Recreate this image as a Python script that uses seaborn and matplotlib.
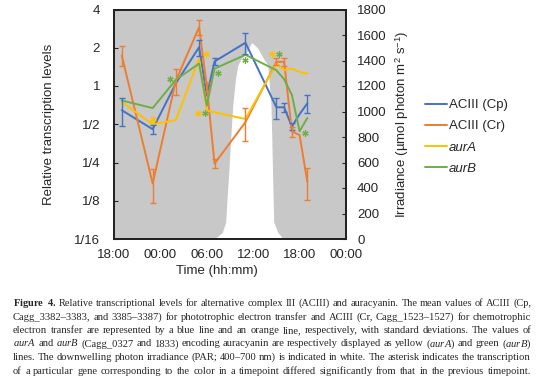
import numpy as np
import pandas as pd
import matplotlib
matplotlib.use("Agg")
import matplotlib.pyplot as plt
from matplotlib.lines import Line2D
import seaborn as sns

# sampling times, hours after 18:00 of day 0
hours = [1, 5, 8, 11, 12, 13, 17, 21, 22, 23, 24, 25]

cp_mean = [0.645, 0.457, 1.05, 2.02, 0.84, 1.56, 2.19, 0.68, 0.68, 0.48, 0.60, 0.73]
cp_sd = [0.16, 0.04, 0.0, 0.30, 0.0, 0.10, 0.40, 0.13, 0.06, 0.03, 0.0, 0.12]
cr_mean = [1.74, 0.171, 1.10, 2.90, 1.00, 0.245, 0.52, 1.55, 1.55, 0.44, 0.41, 0.176]
cr_sd = [0.31, 0.05, 0.25, 0.38, 0.08, 0.02, 0.15, 0.10, 0.12, 0.04, 0.0, 0.05]
aura = [0.75, 0.50, 0.54, 1.64, 0.64, 0.62, 0.55, 1.50, 1.33, 1.37, 1.29, 1.25]
aurb = [0.77, 0.67, 1.12, 1.50, 0.70, 1.37, 1.76, 1.33, 1.13, 0.85, 0.44, 0.56]

genes = ["ACIII (Cp)", "ACIII (Cr)", "aurA", "aurB"]
colors = ["#4472C4", "#ED7D31", "#FFC000", "#70AD47"]

# asterisks: (gene index, hour, level)
stars = [(2, 5.0, 0.55), (2, 11.9, 1.8), (2, 10.9, 0.61), (3, 11.8, 0.61),
         (3, 13.4, 1.26), (3, 7.2, 1.13), (3, 16.9, 1.59), (2, 20.4, 1.77),
         (3, 21.3, 1.77), (3, 24.7, 0.43)]

# downwelling irradiance (PAR)
irr_time = [12.5, 13.3, 14.0, 14.45, 14.6, 14.84, 15.1, 15.36, 15.7, 16.0, 16.5, 17.0, 17.4,
            17.8, 18.2, 18.6, 19.0, 19.5, 19.9, 20.1, 20.3, 20.4, 20.5, 20.65, 21.2, 21.9]
irr_par = [0, 15, 50, 133, 300, 524, 800, 1048, 1250, 1362, 1420, 1450, 1495,
           1540, 1520, 1495, 1450, 1400, 1362, 1200, 1048, 800, 524, 133, 50, 0]

xtick_labels = ["18:00", "00:00", "06:00", "12:00", "18:00", "00:00"]
ytick_vals = [1/16, 1/8, 1/4, 1/2, 1, 2, 4]
ytick_labels = ["1/16", "1/8", "1/4", "1/2", "1", "2", "4"]

caption_lines = [
    r"$\mathbf{Figure}$ $\mathbf{4.}$ Relative transcriptional levels for alternative complex III (ACIII) and auracyanin. The mean values of ACIII (Cp,",
    "Cagg_3382–3383, and 3385–3387) for phototrophic electron transfer and ACIII (Cr, Cagg_1523–1527) for chemotrophic",
    "electron transfer are represented by a blue line and an orange line, respectively, with standard deviations. The values of",
    r"$\mathit{aurA}$ and $\mathit{aurB}$ (Cagg_0327 and 1833) encoding auracyanin are respectively displayed as yellow ($\mathit{aurA}$) and green ($\mathit{aurB}$)",
    "lines. The downwelling photon irradiance (PAR; 400–700 nm) is indicated in white. The asterisk indicates the transcription",
    "of a particular gene corresponding to the color in a timepoint differed significantly from that in the previous timepoint.",
]
cap_font = "Liberation Serif"

sns.set_style("white")
plt.rcParams["font.family"] = ["Liberation Sans", "DejaVu Sans"]
plt.rcParams["mathtext.fontset"] = "custom"
plt.rcParams["mathtext.rm"] = "Liberation Sans"
plt.rcParams["mathtext.it"] = cap_font + ":italic"
plt.rcParams["mathtext.bf"] = cap_font + ":bold"

W, H = 554, 386
fig = plt.figure(figsize=(W / 100, H / 100), dpi=100)
ax = fig.add_axes([114 / W, 1 - 239 / H, 232 / W, 229.5 / H])
ax2 = ax.twinx()

# irradiance as white area on grey background
ax2.patch.set_visible(True)
ax2.patch.set_facecolor("#c8c8c8")
ax2.fill_between(irr_time, irr_par, color="white", lw=0)
ax2.set_ylim(0, 1800)
ax2.set_yticks(range(0, 1801, 200))
ax.set_zorder(ax2.get_zorder() + 1)
ax.patch.set_visible(False)

df = pd.DataFrame({
    "hour": hours * 4,
    "level": cp_mean + cr_mean + aura + aurb,
    "gene": [g for g in genes for _ in hours],
})
ax.set_yscale("log", base=2)
sns.lineplot(data=df, x="hour", y="level", hue="gene", hue_order=genes,
             palette=colors, estimator=None, sort=False, lw=1.4,
             legend=False, ax=ax)

for mean, sd, c in [(cp_mean, cp_sd, colors[0]), (cr_mean, cr_sd, colors[1])]:
    m = np.array(sd) > 0
    ax.errorbar(np.array(hours)[m], np.array(mean)[m], yerr=np.array(sd)[m],
                fmt="none", ecolor=c, elinewidth=1, capsize=2.5, capthick=1)

for gi, h, v in stars:
    ax.plot(h, v, ls="none", marker=(6, 2, 0), ms=4.5, mew=0.9, color=colors[gi])

ax.set_xlim(0, 30)
ax.set_xticks(range(0, 31, 6))
ax.set_xticklabels(xtick_labels)
ax.set_ylim(1/16, 4)
ax.set_yticks(ytick_vals)
ax.set_yticklabels(ytick_labels)
ax.minorticks_off()

ax.tick_params(axis="y", direction="in", length=3, labelsize=9.5, pad=10)
ax.tick_params(axis="x", direction="in", length=3, labelsize=9.5, pad=7)
ax2.tick_params(axis="y", direction="in", length=3, labelsize=9.5, pad=8)
for a in (ax, ax2):
    for s in a.spines.values():
        s.set_linewidth(1.3)
        s.set_color("#222222")

ax.set_xlabel("Time (hh:mm)", fontsize=9.5)
ax.xaxis.set_label_coords(0.444, -0.113)
ax.set_ylabel("Relative transcription levels", fontsize=9.5)
ax.yaxis.set_label_coords(-0.254, 0.5)
ax2.set_ylabel("Irradiance (µmol photon m$^{2}$ s$^{-1}$)", fontsize=9.5)
ax2.yaxis.set_label_coords(1.203, 0.5)

handles = [Line2D([], [], color=c, lw=1.4) for c in colors]
leg = ax.legend(handles, genes, loc="upper left", bbox_to_anchor=(425 / W, 1 - 99 / H),
                bbox_transform=fig.transFigure, frameon=False, fontsize=9.5,
                handlelength=1.7, handletextpad=0.1, labelspacing=0.68, borderpad=0,
                borderaxespad=0)
leg.get_texts()[2].set_style("italic")
leg.get_texts()[3].set_style("italic")

# caption, justified word by word
fig.canvas.draw()
renderer = fig.canvas.get_renderer()
cap_x0, cap_w = 13, 518
cap_y = [306, 319.5, 333, 346.5, 360, 373.5]


def word_widths(words, fs):
    ts = [fig.text(0, 0, w, fontsize=fs, family=cap_font) for w in words]
    ws = [t.get_window_extent(renderer).width for t in ts]
    for t in ts:
        t.remove()
    return ws


# base size from the typical line, shrink only lines that would overflow
space_w = 0.25 * 7 * 100 / 72
natural = [sum(word_widths(ln.split(" "), 7)) + space_w * (len(ln.split(" ")) - 1)
           for ln in caption_lines]
base_fs = 7 * cap_w / np.median(natural)

for line, y, nat in zip(caption_lines, cap_y, natural):
    fs = min(base_fs, 7 * cap_w / nat)
    words = line.split(" ")
    texts = [fig.text(0, 1 - y / H, w, fontsize=fs, family=cap_font,
                      va="baseline", ha="left") for w in words]
    widths = [t.get_window_extent(renderer).width for t in texts]
    gap = (cap_w - sum(widths)) / (len(words) - 1)
    x = cap_x0
    for t, w in zip(texts, widths):
        t.set_x(x / W)
        x += w + gap

fig.savefig("out.png", dpi=100)
